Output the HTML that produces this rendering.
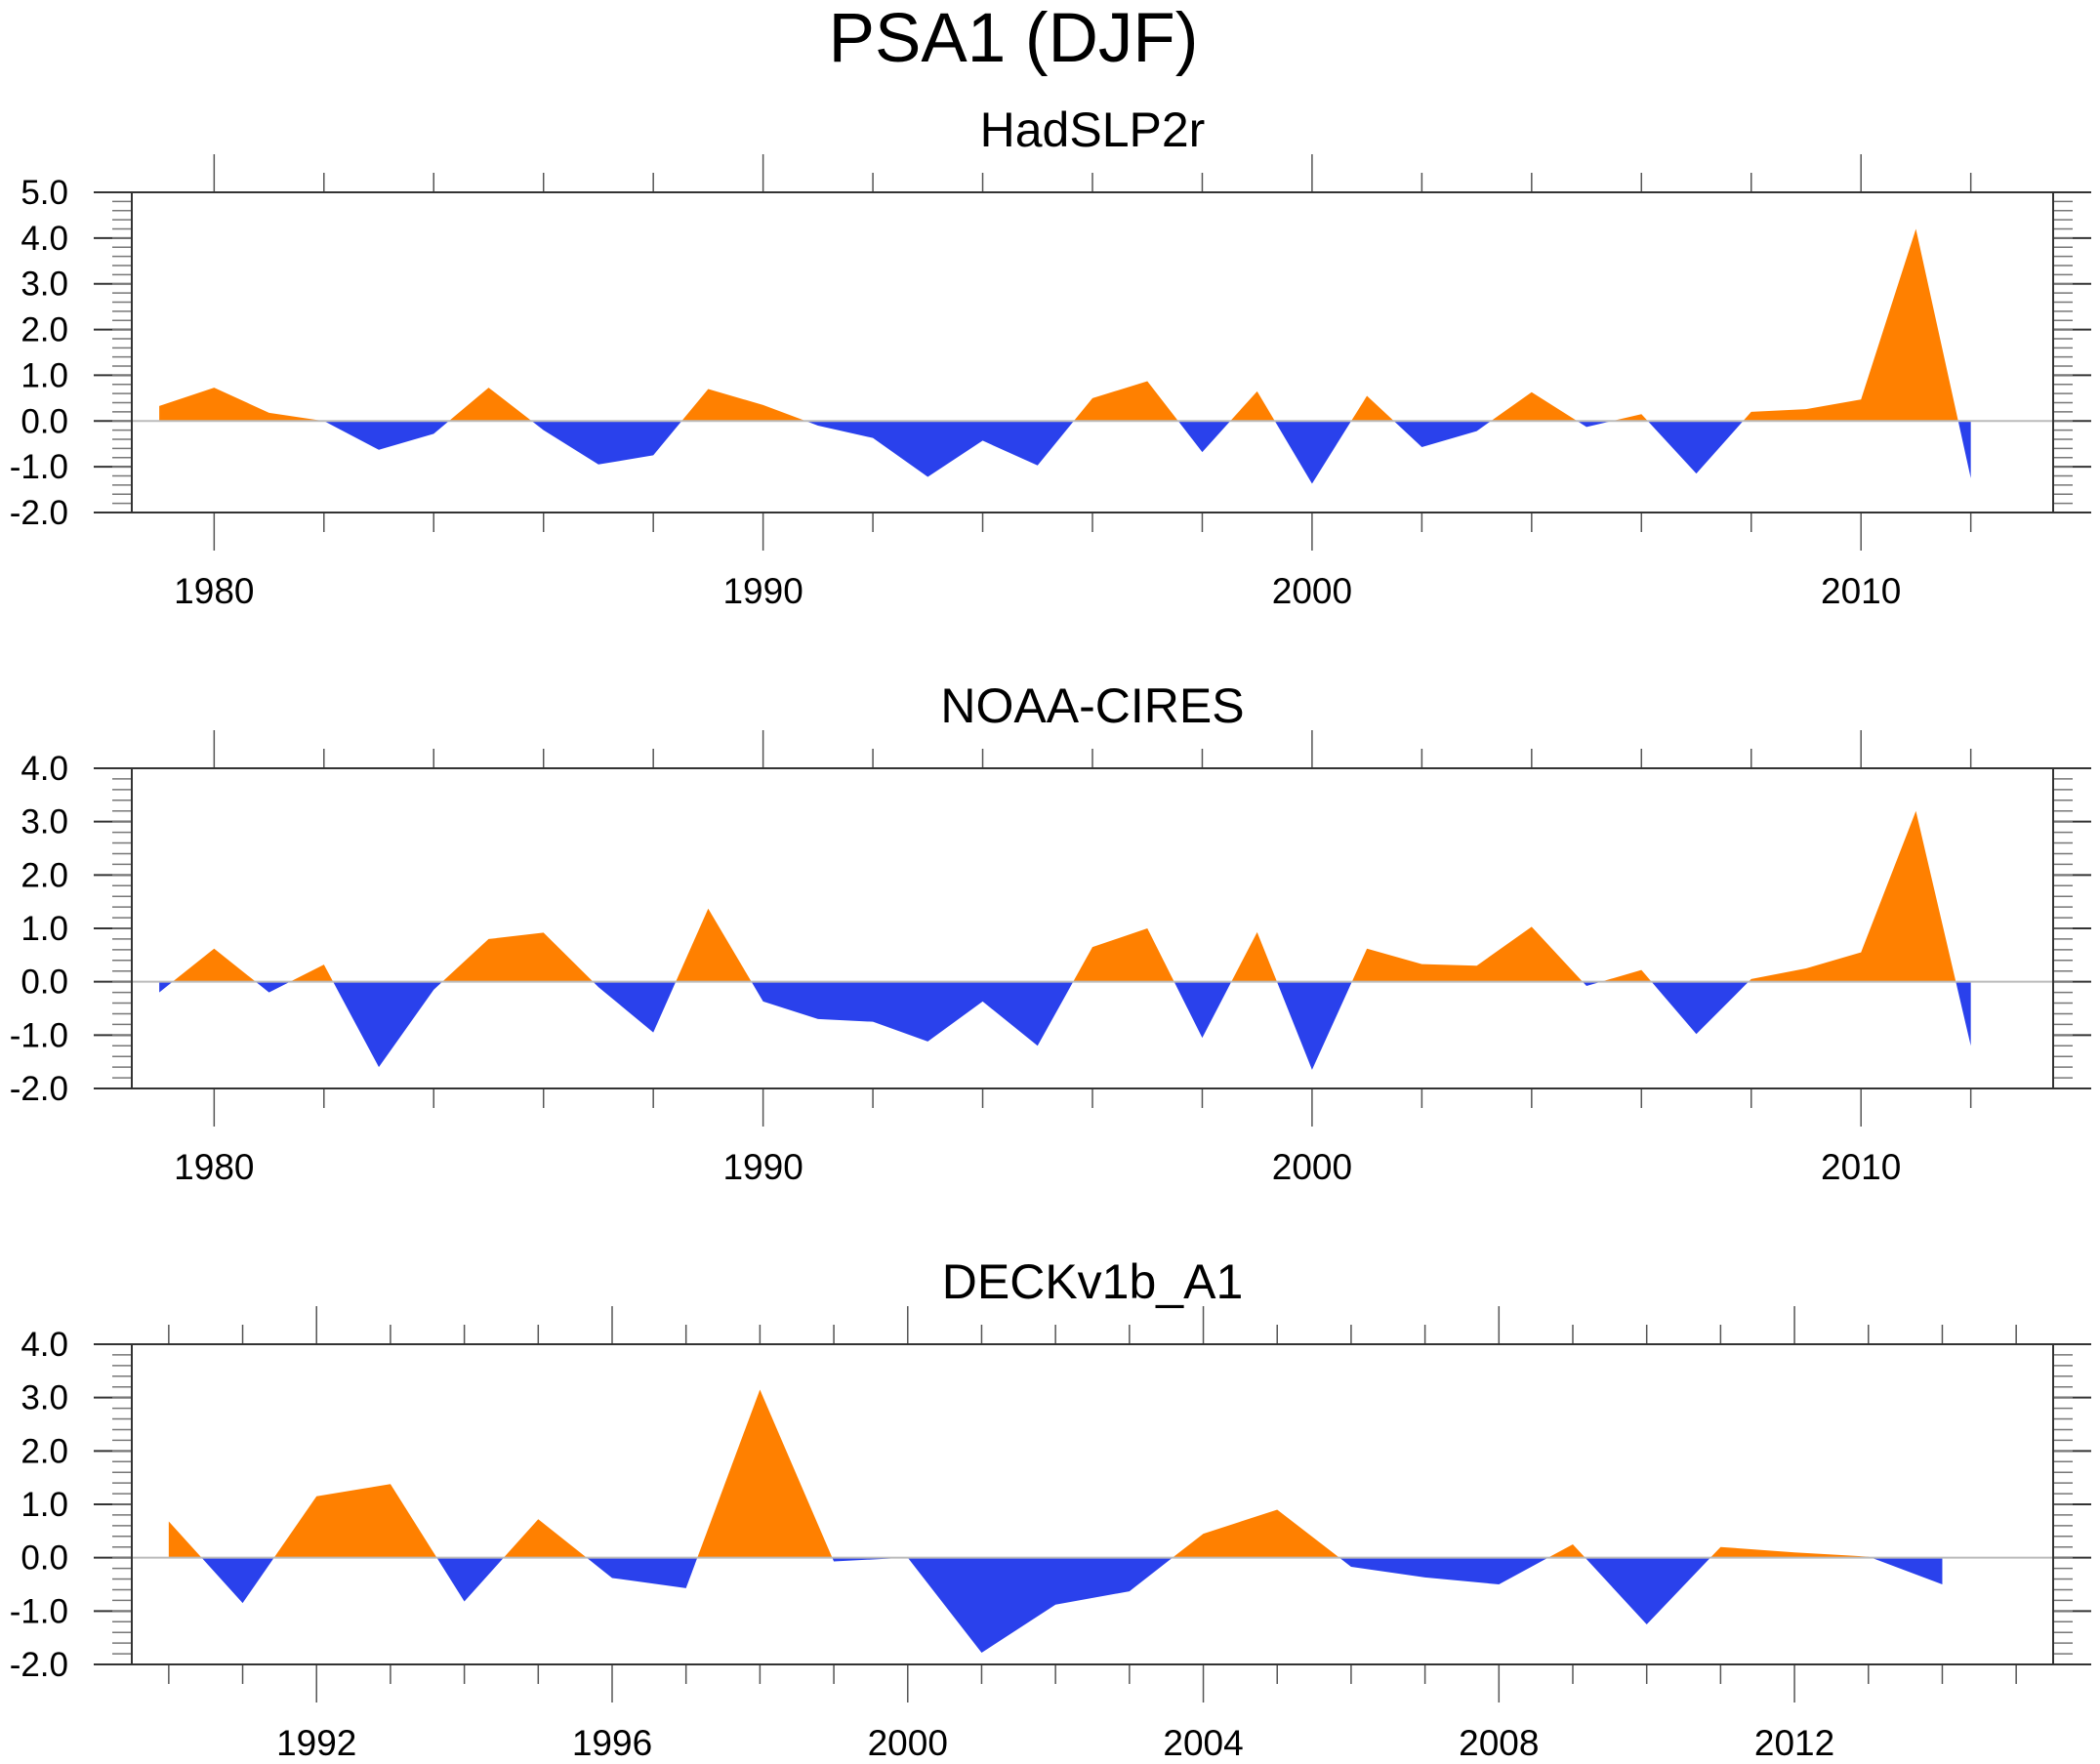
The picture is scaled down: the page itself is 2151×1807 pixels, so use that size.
<!DOCTYPE html>
<html><head><meta charset="utf-8"><style>
html,body{margin:0;padding:0;background:#fff;}
svg{display:block;font-family:"Liberation Sans",Arial,sans-serif;}
</style></head><body>
<svg id="chart" width="2151" height="1807" viewBox="0 0 2151 1807" xmlns="http://www.w3.org/2000/svg">
<text x="1038" y="63" font-size="71" text-anchor="middle">PSA1 (DJF)</text>
</svg>
<script>
const yearsA = [1979,1980,1981,1982,1983,1984,1985,1986,1987,1988,1989,1990,1991,1992,1993,1994,1995,1996,1997,1998,1999,2000,2001,2002,2003,2004,2005,2006,2007,2008,2009,2010,2011,2012];
const hadslpValues = [0.33,0.73,0.18,0.0,-0.63,-0.28,0.73,-0.2,-0.95,-0.75,0.7,0.35,-0.1,-0.37,-1.22,-0.43,-0.97,0.5,0.87,-0.68,0.65,-1.37,0.55,-0.57,-0.22,0.63,-0.13,0.15,-1.15,0.2,0.26,0.47,4.2,-1.25];
const noaaValues = [-0.2,0.62,-0.2,0.32,-1.6,-0.15,0.8,0.92,-0.1,-0.95,1.37,-0.37,-0.7,-0.75,-1.12,-0.37,-1.2,0.65,1.0,-1.05,0.93,-1.65,0.62,0.33,0.3,1.03,-0.08,0.22,-0.98,0.05,0.25,0.55,3.2,-1.2];
const yearsB = [1990,1991,1992,1993,1994,1995,1996,1997,1998,1999,2000,2001,2002,2003,2004,2005,2006,2007,2008,2009,2010,2011,2012,2013,2014];
const deckValues = [0.68,-0.85,1.15,1.38,-0.82,0.72,-0.38,-0.57,3.15,-0.07,0.0,-1.78,-0.88,-0.63,0.45,0.9,-0.17,-0.37,-0.5,0.25,-1.25,0.2,0.1,0.02,-0.5];
const titles = ["HadSLP2r","NOAA-CIRES","DECKv1b_A1"];
const yTicksA = [-2,-1,0,1,2,3,4,5];
const yTicksB = [-2,-1,0,1,2,3,4];
const xTicksA = [1980,1990,2000,2010];
const xTicksB = [1992,1996,2000,2004,2008,2012];

const NS="http://www.w3.org/2000/svg";
const svg=document.getElementById('chart');
function mk(tag,attrs,parent){const e=document.createElementNS(NS,tag);for(const k in attrs)e.setAttribute(k,attrs[k]);(parent||svg).appendChild(e);return e;}

const L=135,R=2103,H=328;
const panels=[
 {top:197,years:yearsA,vals:hadslpValues,ymin:-2,ymax:5,yt:yTicksA,xmin:1978.5,xmax:2013.5,xt:xTicksA,minorStep:2,name:'hadslp2r'},
 {top:787,years:yearsA,vals:noaaValues,ymin:-2,ymax:4,yt:yTicksB,xmin:1978.5,xmax:2013.5,xt:xTicksA,minorStep:2,name:'noaa-cires'},
 {top:1377,years:yearsB,vals:deckValues,ymin:-2,ymax:4,yt:yTicksB,xmin:1989.5,xmax:2015.5,xt:xTicksB,minorStep:1,name:'deckv1b-a1'}
];
panels.forEach((p,pi)=>{
 const g=mk('g',{});
 
 
 const T=p.top,B=p.top+H;
 const xs=v=>L+(v-p.xmin)/(p.xmax-p.xmin)*(R-L);
 const ys=v=>B-(v-p.ymin)/(p.ymax-p.ymin)*H;
 const t=mk('text',{x:1119,y:T-47,'font-size':50,'text-anchor':'middle'},g);
 t.textContent=titles[pi];
 
 
 const y0=ys(0);
 const pts=[];
 for(let i=0;i<p.years.length;i++){
  pts.push([xs(p.years[i]),p.vals[i]]);
  if(i<p.years.length-1){const a=p.vals[i],b=p.vals[i+1];
   if((a>0&&b<0)||(a<0&&b>0)){const f=a/(a-b);pts.push([xs(p.years[i]+f),0]);}}
 }
 let cur=null,seg=[];
 const flush=()=>{if(seg.length>1){const pos=seg.some(q=>q[1]>0);
   let d='M'+seg[0][0]+','+y0;seg.forEach(q=>d+=' L'+q[0]+','+ys(q[1]));d+=' L'+seg[seg.length-1][0]+','+y0+' Z';
   const pa=mk('path',{d:d,fill:pos?'#ff8000':'#2a41ec'},g);
   
   }};
 pts.forEach(q=>{const s=q[1]>0?1:(q[1]<0?-1:0);
   if(s===0){seg.push(q);flush();seg=[q];cur=null;return;}
   if(cur===null||cur===s){seg.push(q);cur=s;}else{flush();seg=[seg[seg.length-1],q];cur=s;}});
 flush();
 const z=mk('line',{x1:L,x2:R,y1:y0,y2:y0,stroke:'#bbb','stroke-width':2},g);
 
 
 p.yt.forEach(v=>{const y=ys(v);
  mk('line',{x1:96,x2:L,y1:y,y2:y,stroke:'#333','stroke-width':2},g);
  mk('line',{x1:R,x2:2142,y1:y,y2:y,stroke:'#333','stroke-width':2},g);
  const tx=mk('text',{x:70,y:y+12,'font-size':35,'text-anchor':'end'},g);
  tx.textContent=v.toFixed(1);
  
  
 });
 for(let v=p.ymin;v<p.ymax-0.01;v+=0.2){const y=ys(v);
  mk('line',{x1:115,x2:L,y1:y,y2:y,stroke:'#777','stroke-width':1.5},g);
  mk('line',{x1:R,x2:2123,y1:y,y2:y,stroke:'#777','stroke-width':1.5},g);}
 const start=Math.ceil(p.xmin/p.minorStep)*p.minorStep;
 for(let yr=start;yr<=p.xmax;yr+=p.minorStep){const x=xs(yr);
  const major=p.xt.includes(yr);const len=major?39:20;
  mk('line',{x1:x,x2:x,y1:T-len,y2:T,stroke:'#555','stroke-width':1.5},g);
  mk('line',{x1:x,x2:x,y1:B,y2:B+len,stroke:'#555','stroke-width':1.5},g);}
 p.xt.forEach(yr=>{const tx=mk('text',{x:xs(yr),y:B+93,'font-size':37,'text-anchor':'middle'},g);
  tx.textContent=yr;
  
  });
 const box=mk('rect',{x:L,y:T,width:R-L,height:H,fill:'none',stroke:'#333','stroke-width':2},g);
 
 
 mk('line',{x1:96,x2:2142,y1:T,y2:T,stroke:'#333','stroke-width':2},g);
 mk('line',{x1:96,x2:2142,y1:B,y2:B,stroke:'#333','stroke-width':2},g);
});
</script>
</body></html>
